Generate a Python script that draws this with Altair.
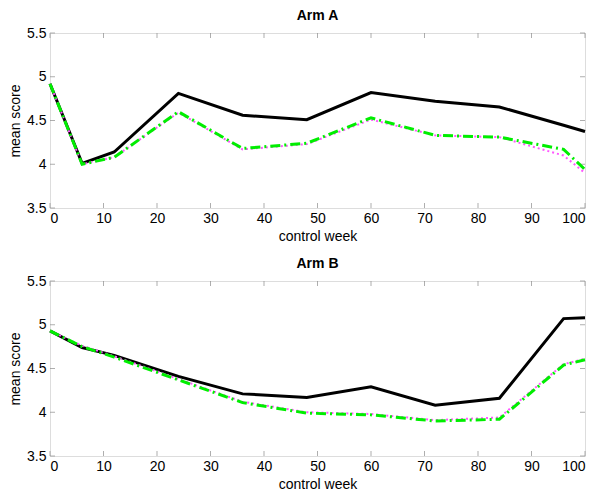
import altair as alt
import pandas as pd

# ---- data ----
weeks = [0, 6, 12, 24, 36, 48, 60, 72, 84, 96, 100]

arm_a_black = [4.92, 4.01, 4.14, 4.81, 4.56, 4.51, 4.82, 4.72, 4.655, 4.445, 4.375]
arm_a_green = [4.92, 4.00, 4.08, 4.60, 4.18, 4.24, 4.53, 4.33, 4.31, 4.17, 3.94]
arm_a_magenta = [4.92, 4.00, 4.08, 4.59, 4.17, 4.23, 4.51, 4.33, 4.31, 4.10, 3.90]

arm_b_black = [4.93, 4.74, 4.65, 4.41, 4.21, 4.17, 4.29, 4.08, 4.16, 5.07, 5.08]
arm_b_green = [4.93, 4.75, 4.63, 4.37, 4.11, 3.99, 3.97, 3.90, 3.92, 4.54, 4.60]
arm_b_magenta = [4.93, 4.76, 4.64, 4.38, 4.12, 4.00, 3.98, 3.91, 3.94, 4.55, 4.61]

x_ticks = [0, 10, 20, 30, 40, 50, 60, 70, 80, 90, 100]
y_ticks = [3.5, 4, 4.5, 5, 5.5]

FONT = "Liberation Sans"
TICK = "#8c8c8c"

xs = alt.Scale(domain=[x_ticks[0], x_ticks[-1]], nice=False, zero=False)
ys = alt.Scale(domain=[y_ticks[0], y_ticks[-1]], nice=False, zero=False)

ax_x = alt.Axis(values=x_ticks, title="control week", ticks=False, tickSize=0, domain=False,
                grid=False, labelPadding=3, labelFontSize=14, labelColor="black", labelFont=FONT,
                titleFontSize=14, titleFont=FONT, titleFontWeight="normal",
                titleColor="black", titlePadding=4)
ax_y = alt.Axis(values=y_ticks, title="mean score", format="~g", ticks=False, tickSize=0,
                domain=False, grid=False, labelPadding=4, labelFontSize=14, labelColor="black",
                labelFont=FONT, titleFontSize=14, titleFont=FONT, titleFontWeight="normal",
                titleColor="black", titlePadding=4)


def panel(title, black, green, magenta):
    df = pd.DataFrame({"week": weeks, "black": black, "green": green, "magenta": magenta})
    xt = pd.DataFrame({"t": x_ticks})
    yt = pd.DataFrame({"t": y_ticks})

    black_layer = alt.Chart(df).mark_line(color="black", strokeWidth=3).encode(
        x=alt.X("week:Q", scale=xs, axis=ax_x),
        y=alt.Y("black:Q", scale=ys, axis=ax_y),
    )
    magenta_layer = alt.Chart(df).mark_line(color="#ff55ff", strokeWidth=2, strokeDash=[2, 3]).encode(
        x=alt.X("week:Q", scale=xs, axis=ax_x),
        y=alt.Y("magenta:Q", scale=ys, axis=ax_y),
    )
    green_layer = alt.Chart(df).mark_line(color="#00ee00", strokeWidth=3, strokeDash=[10, 4, 2, 4]).encode(
        x=alt.X("week:Q", scale=xs, axis=ax_x),
        y=alt.Y("green:Q", scale=ys, axis=ax_y),
    )
    # inward ticks (MATLAB style) on all four sides
    bottom_ticks = alt.Chart(xt).mark_tick(orient="vertical", size=5, yOffset=-2.5,
                                           color=TICK, thickness=1).encode(
        x=alt.X("t:Q", scale=xs, axis=ax_x),
        y=alt.YDatum(y_ticks[0], type="quantitative", scale=ys),
    )
    top_ticks = alt.Chart(xt).mark_tick(orient="vertical", size=5, yOffset=2.5,
                                        color=TICK, thickness=1).encode(
        x=alt.X("t:Q", scale=xs, axis=ax_x),
        y=alt.YDatum(y_ticks[-1], type="quantitative", scale=ys),
    )
    left_ticks = alt.Chart(yt).mark_tick(orient="horizontal", size=5, xOffset=2.5,
                                         color=TICK, thickness=1).encode(
        y=alt.Y("t:Q", scale=ys, axis=ax_y),
        x=alt.XDatum(x_ticks[0], type="quantitative", scale=xs),
    )
    right_ticks = alt.Chart(yt).mark_tick(orient="horizontal", size=5, xOffset=-2.5,
                                          color=TICK, thickness=1).encode(
        y=alt.Y("t:Q", scale=ys, axis=ax_y),
        x=alt.XDatum(x_ticks[-1], type="quantitative", scale=xs),
    )
    return alt.layer(
        bottom_ticks, top_ticks, left_ticks, right_ticks,
        black_layer, magenta_layer, green_layer,
    ).properties(
        width=535, height=175,
        title=alt.Title(title, fontSize=14, fontWeight="bold", font=FONT,
                        color="black", anchor="middle", frame="group", offset=3),
    )


chart = (
    alt.vconcat(
        panel("Arm A", arm_a_black, arm_a_green, arm_a_magenta),
        panel("Arm B", arm_b_black, arm_b_green, arm_b_magenta),
        spacing=12,
    )
    .properties(padding={"left": 0, "top": 0, "right": 0, "bottom": 0})
    .configure_view(stroke="#666666", strokeWidth=1)
    .configure(background="white")
)

chart.save("out.html", embed_options={"renderer": "svg", "actions": False})
